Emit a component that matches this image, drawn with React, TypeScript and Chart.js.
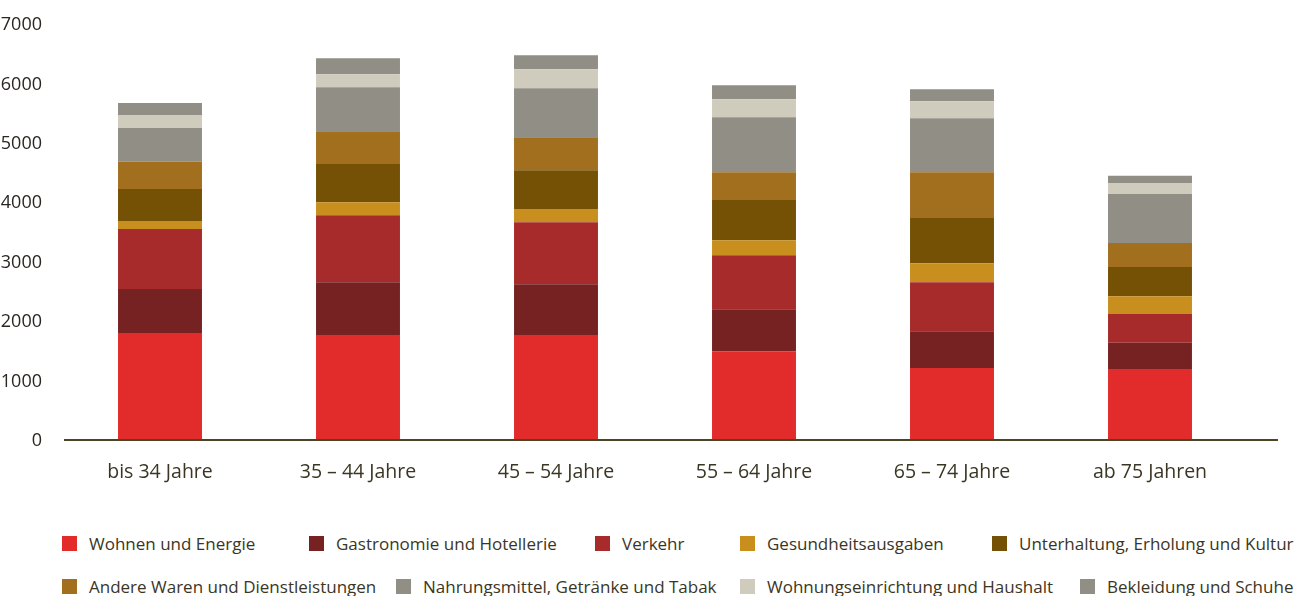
import React, { useEffect, useRef } from "react";
import { Chart, registerables } from "chart.js";

Chart.register(...registerables);

const categories = ["bis 34 Jahre", "35 – 44 Jahre", "45 – 54 Jahre", "55 – 64 Jahre", "65 – 74 Jahre", "ab 75 Jahren"];
const yTicks = [0, 1000, 2000, 3000, 4000, 5000, 6000, 7000];

const wohnenEnergie = [1800, 1765, 1765, 1495, 1210, 1195];
const gastronomie = [740, 890, 855, 705, 620, 440];
const verkehr = [1010, 1125, 1045, 910, 825, 485];
const gesundheit = [135, 220, 220, 250, 320, 300];
const unterhaltung = [540, 655, 655, 690, 775, 490];
const andereWaren = [455, 540, 555, 455, 755, 405];
const nahrungsmittel = [570, 740, 825, 925, 910, 825];
const wohnungseinrichtung = [220, 220, 320, 305, 285, 185];
const bekleidung = [200, 270, 235, 235, 200, 120];

const seriesNames = [
  "Wohnen und Energie",
  "Gastronomie und Hotellerie",
  "Verkehr",
  "Gesundheitsausgaben",
  "Unterhaltung, Erholung und Kultur",
  "Andere Waren und Dienstleistungen",
  "Nahrungsmittel, Getränke und Tabak",
  "Wohnungseinrichtung und Haushalt",
  "Bekleidung und Schuhe",
];
const seriesValues = [
  wohnenEnergie,
  gastronomie,
  verkehr,
  gesundheit,
  unterhaltung,
  andereWaren,
  nahrungsmittel,
  wohnungseinrichtung,
  bekleidung,
];
const seriesColors = [
  "#E22B2B",
  "#772222",
  "#A82B2B",
  "#C88E1E",
  "#745105",
  "#A26F1F",
  "#918E85",
  "#CFCCBE",
  "#918E85",
];

// legend layout (row, left x of swatch)
const legendRows = [0, 0, 0, 0, 0, 1, 1, 1, 1];
const legendX = [62, 309, 595, 740, 992, 62, 396, 740, 1080];
const legendRowY = [543, 586];

const FONT = "'Open Sans', 'Noto Sans', sans-serif";
const TEXT_COLOR = "#3b3624";
const TICK_COLOR = "#2a2622";

const baselinePlugin = {
  id: "baselineExt",
  afterDatasetsDraw(chart: any) {
    const { ctx, chartArea, scales } = chart;
    const y = scales.y.getPixelForValue(0);
    ctx.save();
    ctx.strokeStyle = "#4b4528";
    ctx.lineWidth = 2;
    ctx.beginPath();
    ctx.moveTo(chartArea.left + 3, y);
    ctx.lineTo(chartArea.right + 29, y);
    ctx.stroke();
    ctx.restore();
  },
};

function BarChart() {
  const ref = useRef<HTMLCanvasElement | null>(null);
  useEffect(() => {
    if (!ref.current) return;
    const chart = new Chart(ref.current, {
      type: "bar",
      data: {
        labels: categories,
        datasets: seriesNames.map((name, i) => ({
          label: name,
          data: seriesValues[i],
          backgroundColor: seriesColors[i],
          borderWidth: 0,
          barPercentage: 0.424,
          categoryPercentage: 1,
        })),
      },
      options: {
        animation: false,
        responsive: true,
        maintainAspectRatio: false,
        layout: { padding: { left: 0, right: 45, top: 24, bottom: 0 } },
        plugins: {
          legend: { display: false },
          tooltip: { enabled: false },
        },
        scales: {
          x: {
            stacked: true,
            grid: { display: false },
            border: { display: false },
            ticks: {
              color: TEXT_COLOR,
              font: { family: FONT, size: 19.5 },
              padding: 13,
              maxRotation: 0,
            },
            afterFit(scale: any) {
              scale.height = 60;
            },
          },
          y: {
            stacked: true,
            min: yTicks[0],
            max: yTicks[yTicks.length - 1],
            grid: { display: false },
            border: { display: false },
            afterBuildTicks(scale: any) {
              scale.ticks = yTicks.map((v) => ({ value: v }));
            },
            ticks: {
              color: TICK_COLOR,
              font: { family: FONT, size: 18 },
              padding: 11,
              labelOffset: 1,
              callback: (v: any) => String(v),
            },
            afterFit(scale: any) {
              scale.width = 61;
            },
          },
        },
      },
      plugins: [baselinePlugin],
    });
    return () => chart.destroy();
  }, []);
  return (
    <div style={{ position: "absolute", left: 0, top: 0, width: 1294, height: 500 }}>
      <canvas ref={ref} />
    </div>
  );
}

export default function App() {
  return (
    <div
      style={{
        position: "absolute",
        left: 0,
        top: 0,
        width: 1294,
        height: 596,
        background: "#ffffff",
        overflow: "hidden",
        fontFamily: FONT,
      }}
    >
      <BarChart />
      {seriesNames.map((name, i) => (
        <div
          key={name}
          style={{
            position: "absolute",
            left: legendX[i],
            top: legendRowY[legendRows[i]] - 12,
            height: 24,
            display: "flex",
            alignItems: "center",
            whiteSpace: "nowrap",
            color: TEXT_COLOR,
            fontSize: 17,
          }}
        >
          <span
            style={{
              display: "inline-block",
              width: 15,
              height: 15,
              background: seriesColors[i],
              marginRight: 12,
            }}
          />
          <span>{name}</span>
        </div>
      ))}
    </div>
  );
}
